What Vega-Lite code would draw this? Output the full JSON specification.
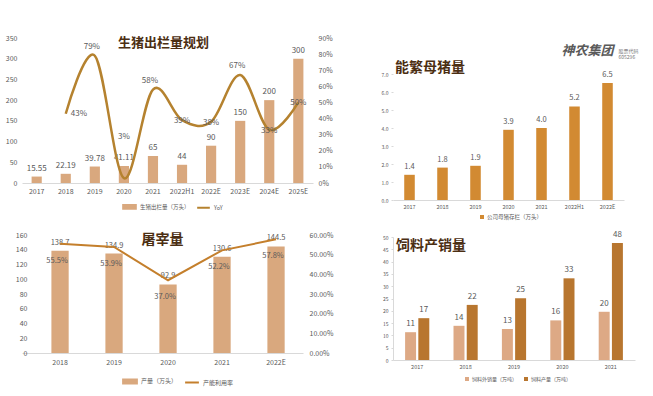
{
 "$schema": "https://vega.github.io/schema/vega-lite/v6.json",
 "padding": {"left": 0, "top": 34, "right": 0, "bottom": 0},
 "background": "white",
 "config": {
  "font": "Noto Sans CJK SC",
  "view": {"stroke": null},
  "axis": {"grid": false, "labelColor": "#595959", "domainColor": "#D9D9D9", "tickColor": "#D9D9D9", "labelFont": "Noto Sans CJK SC", "title": null, "labelOverlap": false},
  "legend": {"labelFont": "Noto Sans CJK SC", "labelColor": "#595959"},
  "title": {"font": "Noto Sans CJK SC"},
  "text": {"font": "Noto Sans CJK SC", "color": "#595959"}
 },
 "resolve": {"scale": {"color": "independent"}, "legend": {"color": "independent"}},
 "spacing": 40,
 "hconcat": [
  {
   "vconcat": [
    {
     "width": 291, "height": 145,
     "title": {"text": "生猪出栏量规划", "fontSize": 13, "fontWeight": "bold", "color": "#4B2E12", "anchor": "middle", "offset": -16, "dx": -4},
     "data": {"values": [
      {"year": "2017", "output": 15.55, "yoy": null},
      {"year": "2018", "output": 22.19, "yoy": 0.43},
      {"year": "2019", "output": 39.78, "yoy": 0.79},
      {"year": "2020", "output": 41.11, "yoy": 0.03},
      {"year": "2021", "output": 65, "yoy": 0.58},
      {"year": "2022H1", "output": 44, "yoy": 0.39},
      {"year": "2022E", "output": 90, "yoy": 0.38},
      {"year": "2023E", "output": 150, "yoy": 0.67},
      {"year": "2024E", "output": 200, "yoy": 0.33},
      {"year": "2025E", "output": 300, "yoy": 0.50}
     ]},
     "encoding": {"x": {"field": "year", "type": "ordinal", "sort": null, "scale": {"paddingInner": 0.65, "paddingOuter": 0.33}, "axis": {"labelAngle": 0, "labelFontSize": 7, "ticks": false, "labelPadding": 4}}},
     "layer": [
      {
       "encoding": {"y": {"field": "output", "type": "quantitative", "scale": {"domain": [0, 350]}, "axis": {"values": [0, 50, 100, 150, 200, 250, 300, 350], "labelFontSize": 7, "domain": false, "ticks": false, "labelPadding": 5, "minExtent": 22, "maxExtent": 22}}},
       "layer": [
        {"mark": {"type": "bar"}, "encoding": {
         "color": {"datum": "生猪出栏量（万头）", "type": "nominal", "scale": {"domain": ["生猪出栏量（万头）", "YoY"], "range": ["#D9A87E", "#B5822F"]},
          "legend": {"orient": "none", "legendX": 100, "legendY": 161, "direction": "horizontal", "title": null, "labelFontSize": 5.5, "symbolSize": 160, "columnPadding": 3, "labelOffset": 3,
           "encode": {"symbols": {"update": {
            "shape": {"signal": "datum.value === 'YoY' ? 'stroke' : 'M-1,-0.3H1V0.3H-1Z'"},
            "fill": {"signal": "datum.value === 'YoY' ? 'transparent' : '#D9A87E'"},
            "stroke": {"signal": "datum.value === 'YoY' ? '#B5822F' : 'transparent'"},
            "strokeWidth": {"value": 2}}}}}}
        }},
        {"mark": {"type": "text", "dy": -8, "fontSize": 8}, "encoding": {"text": {"field": "output", "type": "nominal"}}}
       ]
      },
      {
       "encoding": {"y": {"field": "yoy", "type": "quantitative", "scale": {"domain": [0, 0.9]}, "axis": {"orient": "right", "format": ".0%", "values": [0, 0.1, 0.2, 0.3, 0.4, 0.5, 0.6, 0.7, 0.8, 0.9], "labelFontSize": 7, "domain": false, "ticks": false, "labelPadding": 5}}},
       "layer": [
        {"mark": {"type": "line", "interpolate": "cardinal", "strokeWidth": 2.5}, "encoding": {"color": {"datum": "YoY", "type": "nominal"}}},
        {"transform": [{"filter": {"field": "year", "oneOf": ["2019", "2021", "2023E"]}}], "mark": {"type": "text", "dy": -9, "dx": -3, "fontSize": 8}, "encoding": {"text": {"field": "yoy", "type": "quantitative", "format": ".0%"}}},
        {"transform": [{"filter": {"field": "year", "oneOf": ["2018"]}}], "mark": {"type": "text", "dx": 5, "align": "left", "fontSize": 8}, "encoding": {"text": {"field": "yoy", "type": "quantitative", "format": ".0%"}}},
        {"transform": [{"filter": {"field": "year", "oneOf": ["2020"]}}], "mark": {"type": "text", "dy": -41, "fontSize": 8}, "encoding": {"text": {"field": "yoy", "type": "quantitative", "format": ".0%"}}},
        {"transform": [{"filter": {"field": "year", "oneOf": ["2022H1", "2022E", "2024E", "2025E"]}}], "mark": {"type": "text", "dy": 1, "fontSize": 8}, "encoding": {"text": {"field": "yoy", "type": "quantitative", "format": ".0%"}}}
       ]
      }
     ],
     "resolve": {"scale": {"y": "independent"}}
    },
    {
     "width": 281, "height": 118,
     "title": {"text": "屠宰量", "fontSize": 14, "fontWeight": "bold", "color": "#4B2E12", "anchor": "middle", "offset": -16, "dx": 0},
     "data": {"values": [
      {"year": "2018", "prod": 138.7, "util": 0.555},
      {"year": "2019", "prod": 134.9, "util": 0.539},
      {"year": "2020", "prod": 92.9, "util": 0.370},
      {"year": "2021", "prod": 130.6, "util": 0.522},
      {"year": "2022E", "prod": 144.5, "util": 0.578}
     ]},
     "encoding": {"x": {"field": "year", "type": "ordinal", "sort": null, "scale": {"paddingInner": 0.68, "paddingOuter": 0.442, "align": 0.616}, "axis": {"labelAngle": 0, "labelFontSize": 7, "ticks": false, "labelPadding": 5}}},
     "layer": [
      {
       "encoding": {"y": {"field": "prod", "type": "quantitative", "scale": {"domain": [0, 160]}, "axis": {"values": [0, 20, 40, 60, 80, 100, 120, 140, 160], "labelFontSize": 7, "domain": false, "ticks": false, "labelPadding": 6, "offset": -11}}},
       "layer": [
        {"mark": {"type": "bar"}, "encoding": {
         "color": {"datum": "产量（万头）", "type": "nominal", "scale": {"domain": ["产量（万头）", "产能利用率"], "range": ["#D9A87E", "#C47F2C"]},
          "legend": {"orient": "none", "legendX": 100, "legendY": 138, "direction": "horizontal", "title": null, "labelFontSize": 6, "symbolSize": 190, "columnPadding": 3, "labelOffset": 3,
           "encode": {"symbols": {"update": {
            "shape": {"signal": "datum.value === '产能利用率' ? 'stroke' : 'M-1,-0.3H1V0.3H-1Z'"},
            "fill": {"signal": "datum.value === '产能利用率' ? 'transparent' : '#D9A87E'"},
            "stroke": {"signal": "datum.value === '产能利用率' ? '#C47F2C' : 'transparent'"},
            "strokeWidth": {"value": 2}}}}}}
        }},
        {"mark": {"type": "text", "dy": -8, "fontSize": 7.5}, "encoding": {"text": {"field": "prod", "type": "quantitative", "format": ".1f"}}}
       ]
      },
      {
       "encoding": {"y": {"field": "util", "type": "quantitative", "scale": {"domain": [0, 0.6]}, "axis": {"orient": "right", "format": ".2%", "values": [0, 0.1, 0.2, 0.3, 0.4, 0.5, 0.6], "labelFontSize": 7, "domain": false, "ticks": false, "labelPadding": 6}}},
       "layer": [
        {"mark": {"type": "line", "strokeWidth": 2}, "encoding": {"color": {"datum": "产能利用率", "type": "nominal"}}},
        {"mark": {"type": "text", "dy": 17, "dx": -3, "fontSize": 7.5}, "encoding": {"text": {"field": "util", "type": "quantitative", "format": ".1%"}}}
       ]
      }
     ],
     "resolve": {"scale": {"y": "independent"}}
    }
   ],
   "spacing": 18,
   "resolve": {"scale": {"color": "independent"}, "legend": {"color": "independent"}}
  },
  {
   "vconcat": [
    {
     "width": 231, "height": 162,
     "title": {"text": "能繁母猪量", "fontSize": 14, "fontWeight": "bold", "color": "#4B2E12", "anchor": "start", "offset": -37, "dx": 22},
     "data": {"values": [
      {"year": "2017", "sows": 1.4},
      {"year": "2018", "sows": 1.8},
      {"year": "2019", "sows": 1.9},
      {"year": "2020", "sows": 3.9},
      {"year": "2021", "sows": 4.0},
      {"year": "2022H1", "sows": 5.2},
      {"year": "2022E", "sows": 6.5}
     ]},
     "encoding": {
      "x": {"field": "year", "type": "ordinal", "sort": null, "scale": {"paddingInner": 0.68, "paddingOuter": 0.34}, "axis": {"labelAngle": 0, "labelFontSize": 5.5, "ticks": false, "labelPadding": 4}}
     },
     "layer": [
      {
       "encoding": {"y": {"field": "sows", "type": "quantitative", "scale": {"domain": [0, 8.526]}, "axis": {"title": null, "values": [0, 1, 2, 3, 4, 5, 6, 7], "format": ".1f", "labelFontSize": 5, "tickSize": 2, "labelPadding": 3, "domain": false, "minExtent": 20, "maxExtent": 20}}},
       "layer": [
        {"mark": {"type": "bar"}, "encoding": {
         "color": {"datum": "公司母猪存栏（万头）", "type": "nominal", "scale": {"domain": ["公司母猪存栏（万头）"], "range": ["#D28A32"]},
          "legend": {"orient": "none", "legendX": 86, "legendY": 176, "direction": "horizontal", "title": null, "labelFontSize": 5.5, "symbolSize": 16, "symbolType": "square", "labelOffset": 2}}
        }},
        {"mark": {"type": "text", "dy": -8, "fontSize": 7.5}, "encoding": {"text": {"field": "sows", "type": "quantitative", "format": ".1f"}}}
       ]
      },
      {
       "data": {"values": [{"name": "神农集团", "code": ["股票代码", "605296"]}]},
       "encoding": {"x": {"datum": "2022E"}, "y": {"datum": 8.3, "type": "quantitative", "axis": {"title": null, "values": [0, 1, 2, 3, 4, 5, 6, 7], "format": ".1f", "labelFontSize": 5, "tickSize": 2, "labelPadding": 3, "domain": false, "minExtent": 20, "maxExtent": 20}}},
       "layer": [
        {"mark": {"type": "text", "align": "right", "baseline": "middle", "dx": 6, "fontSize": 13, "fontStyle": "italic", "fontWeight": "bold", "color": "#5A5A5A"}, "encoding": {"text": {"field": "name", "type": "nominal"}}},
        {"mark": {"type": "text", "align": "left", "baseline": "middle", "dx": 11, "fontSize": 5, "lineHeight": 6, "color": "#777777"}, "encoding": {"text": {"field": "code", "type": "nominal"}}}
       ]
      }
     ]
    },
    {
     "width": 242, "height": 123,
     "title": {"text": "饲料产销量", "fontSize": 14, "fontWeight": "bold", "color": "#4B2E12", "anchor": "start", "offset": -22, "dx": 23},
     "data": {"values": [
      {"year": "2017", "type": "饲料外销量（万吨）", "value": 11.3},
      {"year": "2017", "type": "饲料产量（万吨）", "value": 17.0},
      {"year": "2018", "type": "饲料外销量（万吨）", "value": 13.9},
      {"year": "2018", "type": "饲料产量（万吨）", "value": 22.4},
      {"year": "2019", "type": "饲料外销量（万吨）", "value": 12.6},
      {"year": "2019", "type": "饲料产量（万吨）", "value": 25.1},
      {"year": "2020", "type": "饲料外销量（万吨）", "value": 16.1},
      {"year": "2020", "type": "饲料产量（万吨）", "value": 33.2},
      {"year": "2021", "type": "饲料外销量（万吨）", "value": 19.6},
      {"year": "2021", "type": "饲料产量（万吨）", "value": 47.6}
     ]},
     "encoding": {
      "x": {"field": "year", "type": "ordinal", "sort": null, "scale": {"paddingInner": 0.5, "paddingOuter": 0.25}, "axis": {"labelAngle": 0, "labelFontSize": 5.5, "ticks": false, "labelPadding": 4}},
      "xOffset": {"field": "type", "type": "nominal", "sort": ["饲料外销量（万吨）", "饲料产量（万吨）"], "scale": {"paddingInner": 0.17}},
      "y": {"field": "value", "type": "quantitative", "scale": {"domain": [0, 50]}, "axis": {"values": [0, 5, 10, 15, 20, 25, 30, 35, 40, 45, 50], "labelFontSize": 5, "tickSize": 2, "labelPadding": 3, "minExtent": 20, "maxExtent": 20}}
     },
     "layer": [
      {"mark": {"type": "bar"}, "encoding": {
       "color": {"field": "type", "type": "nominal", "scale": {"domain": ["饲料外销量（万吨）", "饲料产量（万吨）"], "range": ["#DDA985", "#B8762F"]},
        "legend": {"orient": "none", "legendX": 71, "legendY": 139, "direction": "horizontal", "title": null, "labelFontSize": 5, "symbolSize": 16, "symbolType": "square", "labelOffset": 2, "columnPadding": 5}}
      }},
      {"mark": {"type": "text", "dy": -8, "fontSize": 8}, "encoding": {"text": {"field": "value", "type": "quantitative", "format": ".0f"}}}
     ]
    }
   ],
   "spacing": 9,
   "resolve": {"scale": {"color": "independent"}, "legend": {"color": "independent"}}
  }
 ]
}
